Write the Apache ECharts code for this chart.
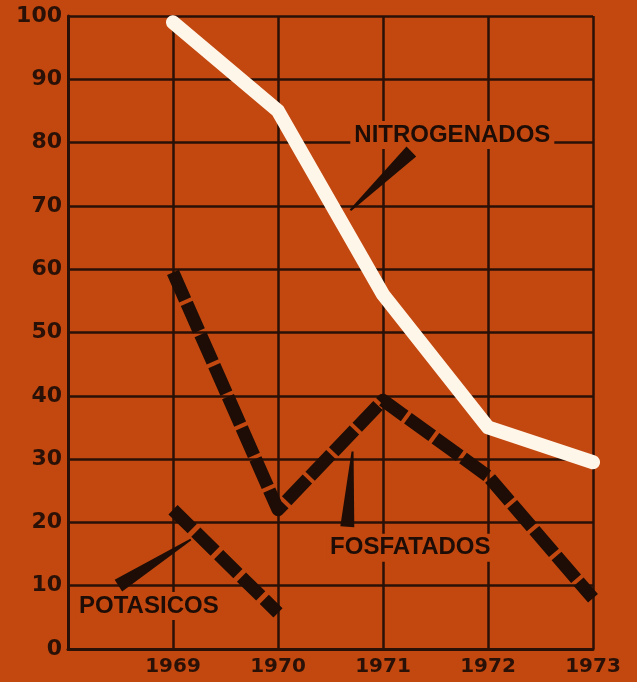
<!DOCTYPE html>
<html>
<head>
<meta charset="utf-8">
<script src="https://cdn.jsdelivr.net/npm/echarts@6/dist/echarts.min.js"></script>
<style>
html,body{margin:0;padding:0;background:#c3480f;}
#chart{width:637px;height:682px;}
</style>
</head>
<body>
<div id="chart"></div>
<script>
// ---- data ----
const years = [1969, 1970, 1971, 1972, 1973];
const nitrogenados = [99, 85, 56, 35, 29.5];
const fosfatados = [59.5, 22, 39.3, 27.3, 8];
const potasicos = [22, 5.7];
const yTicks = [0, 10, 20, 30, 40, 50, 60, 70, 80, 90, 100];

// annotation labels: [text, x(year), y(value)]
const labelNames = ['NITROGENADOS', 'FOSFATADOS', 'POTASICOS'];
const labelAnchors = [[1971.66, 81.2], [1971.26, 16.0], [1968.77, 6.8]];
// pointer wedges: [narrow tip (near line), wide base (near text)] in data coords
const pointerTips = [[1970.69, 69.3], [1970.71, 31.2], [1969.17, 17.3]];
const pointerBases = [[1971.27, 78.6], [1970.66, 19.3], [1968.48, 10.0]];

const BG = '#c3480f';
const INK = '#2a1107';

const chart = echarts.init(document.getElementById('chart'), null, {renderer: 'canvas'});

const pair = (xs, ys) => ys.map((v, i) => [xs[i], v]);

chart.setOption({
  backgroundColor: BG,
  animation: false,
  grid: {left: 68, right: 44, top: 16, bottom: 33},
  xAxis: {
    type: 'value', min: 1968, max: 1973, interval: 1,
    axisLine: {show: true, lineStyle: {color: INK, width: 3}},
    axisTick: {show: false},
    splitLine: {show: true, lineStyle: {color: INK, width: 2.5}},
    axisLabel: {
      color: INK, fontFamily: 'DejaVu Sans', fontWeight: 'bold', fontSize: 20, margin: 8,
      formatter: v => (years.indexOf(v) >= 0 ? String(v) : '')
    }
  },
  yAxis: {
    type: 'value', min: 0, max: 100, interval: 10,
    axisLine: {show: true, lineStyle: {color: INK, width: 3}},
    axisTick: {show: false},
    splitLine: {show: true, lineStyle: {color: INK, width: 2.5}},
    axisLabel: {
      color: INK, fontFamily: 'DejaVu Sans', fontWeight: 'bold', fontSize: 22, margin: 6,
      formatter: v => (yTicks.indexOf(v) >= 0 ? String(v) : '')
    }
  },
  series: [
    {
      name: 'Nitrogenados', type: 'line', data: pair(years, nitrogenados),
      showSymbol: false, symbol: 'none', z: 3,
      lineStyle: {color: '#fff6ea', width: 14, cap: 'round', join: 'round'}
    },
    {
      name: 'Fosfatados', type: 'line', data: pair(years, fosfatados),
      showSymbol: false, symbol: 'none', z: 4,
      lineStyle: {color: '#1d0d06', width: 13, type: [30, 4], cap: 'butt', join: 'round'}
    },
    {
      name: 'Potasicos', type: 'line', data: pair(years, potasicos),
      showSymbol: false, symbol: 'none', z: 4,
      lineStyle: {color: '#1d0d06', width: 13, type: [27, 5], cap: 'butt', join: 'round'}
    }
  ]
});

// annotations positioned through the chart's own scales
const elements = [];
labelNames.forEach((name, i) => {
  const p = chart.convertToPixel({gridIndex: 0}, labelAnchors[i]);
  elements.push({
    type: 'text', x: p[0], y: p[1], z: 20,
    style: {
      text: name, fill: '#1d0d06', font: 'bold 24px "Liberation Sans", Arial, sans-serif',
      align: 'center', verticalAlign: 'middle',
      backgroundColor: BG, padding: [2, 4]
    }
  });
});
pointerTips.forEach((tip, i) => {
  const a = chart.convertToPixel({gridIndex: 0}, tip);
  const b = chart.convertToPixel({gridIndex: 0}, pointerBases[i]);
  const dx = b[0] - a[0], dy = b[1] - a[1];
  const len = Math.sqrt(dx * dx + dy * dy);
  const nx = -dy / len, ny = dx / len;
  const hw = 7;
  elements.push({
    type: 'polygon', z: 21,
    shape: {points: [
      [a[0] + nx * 1, a[1] + ny * 1], [a[0] - nx * 1, a[1] - ny * 1],
      [b[0] - nx * hw, b[1] - ny * hw], [b[0] + nx * hw, b[1] + ny * hw]
    ]},
    style: {fill: '#1d0d06'}
  });
});
chart.setOption({graphic: {elements: elements}});
</script>
</body>
</html>
